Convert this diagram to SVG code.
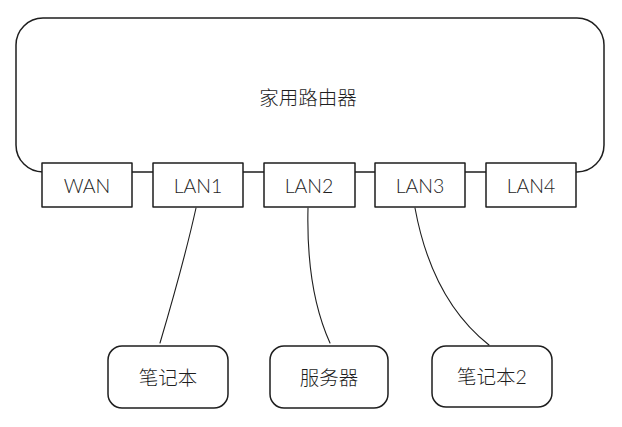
<svg xmlns="http://www.w3.org/2000/svg" width="622" height="427" viewBox="0 0 622 427">
  <style>
    .shape { fill: #ffffff; stroke: #1e1e1e; stroke-width: 1.5; stroke-linejoin: round; }
    .wire { fill: none; stroke: #1e1e1e; stroke-width: 1.1; stroke-linecap: round; }
    .label { font-family: "Lato", "Liberation Sans", "Noto Sans CJK SC", sans-serif; font-size: 19.5px; font-weight: 300; fill: #1e1e1e; text-anchor: middle; dominant-baseline: central; }
  </style>
  <rect width="622" height="427" fill="#ffffff"/>

  <!-- router body; its lower edge runs behind the ports -->
  <g id="router">
    <rect class="shape" x="16" y="18" width="588" height="154" rx="27" ry="27"/>
    <text class="label" x="308" y="97">家用路由器</text>
  </g>

  <g id="connectors">
    <path class="wire" d="M196 208 Q184 262 160 343"/>
    <path class="wire" d="M308 208 Q306 290 330 343"/>
    <path class="wire" d="M415 208 Q432 300 489 345"/>
  </g>

  <g id="port-wan">
    <rect class="shape" x="42" y="163" width="90" height="44"/>
    <text class="label" x="87" y="185">WAN</text>
  </g>
  <g id="port-lan1">
    <rect class="shape" x="153" y="163" width="90" height="44"/>
    <text class="label" x="198" y="185">LAN1</text>
  </g>
  <g id="port-lan2">
    <rect class="shape" x="264" y="163" width="91" height="44"/>
    <text class="label" x="309" y="185">LAN2</text>
  </g>
  <g id="port-lan3">
    <rect class="shape" x="375" y="163" width="90" height="44"/>
    <text class="label" x="420" y="185">LAN3</text>
  </g>
  <g id="port-lan4">
    <rect class="shape" x="486" y="163" width="90" height="44"/>
    <text class="label" x="531" y="185">LAN4</text>
  </g>

  <g id="laptop1">
    <rect class="shape" x="108" y="346" width="120" height="62" rx="14" ry="14"/>
    <text class="label" x="168" y="377">笔记本</text>
  </g>
  <g id="server">
    <rect class="shape" x="270" y="346" width="118" height="62" rx="14" ry="14"/>
    <text class="label" x="329" y="377">服务器</text>
  </g>
  <g id="laptop2">
    <rect class="shape" x="432" y="346" width="120" height="61" rx="14" ry="14"/>
    <text class="label" x="492" y="376">笔记本2</text>
  </g>
</svg>
